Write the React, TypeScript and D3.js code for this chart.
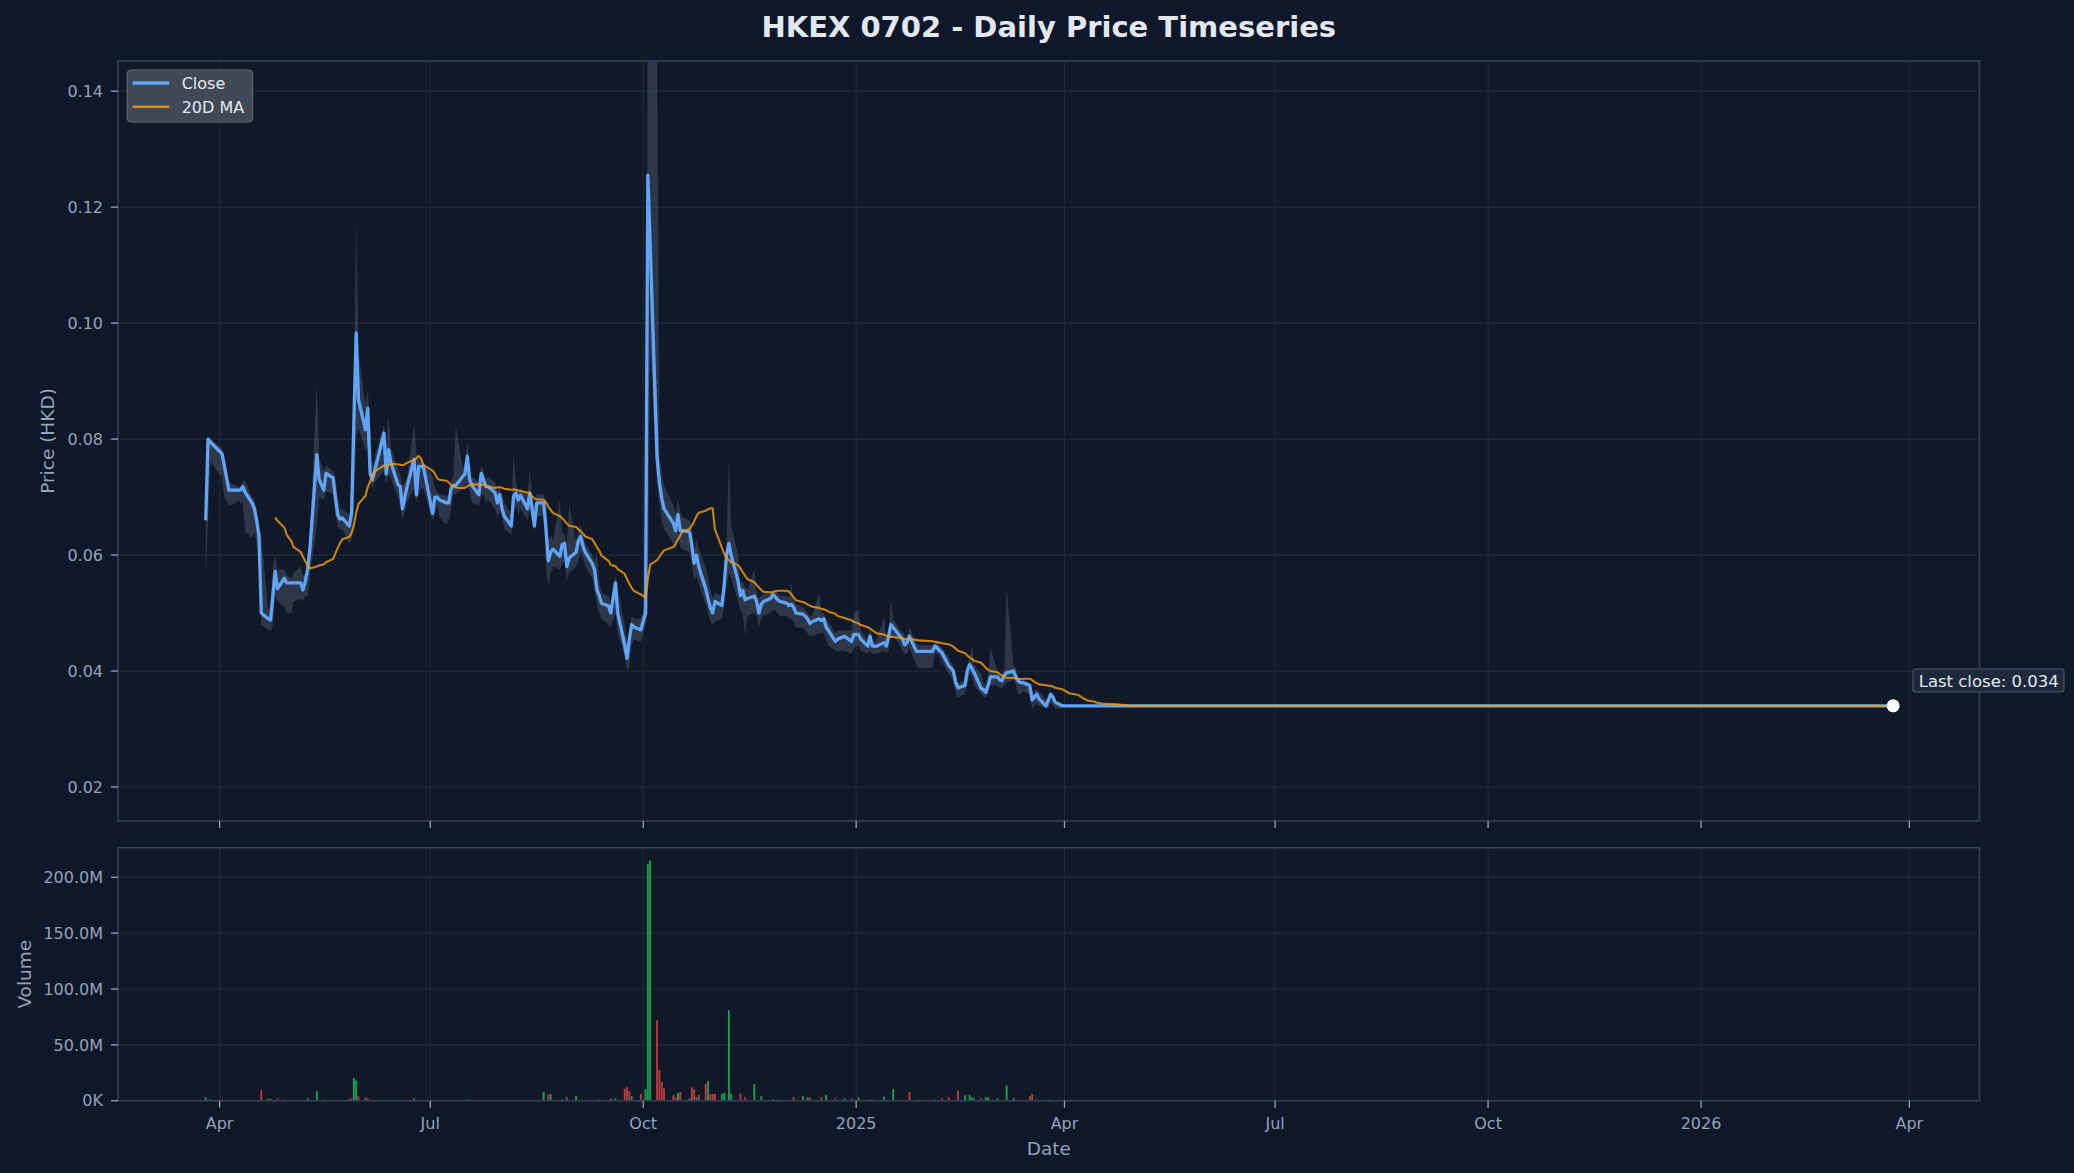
import React from 'react';
import * as d3 from 'd3';

const TITLE = 'HKEX 0702 - Daily Price Timeseries';

// HK exchange holidays (non-trading weekdays)
const HOLIDAYS = [
  '2024-03-29', '2024-04-01', '2024-04-04', '2024-05-01', '2024-05-15', '2024-06-10',
  '2024-07-01', '2024-09-18', '2024-10-01', '2024-10-11', '2024-12-25', '2024-12-26',
  '2025-01-01', '2025-01-29', '2025-01-30', '2025-01-31', '2025-04-04', '2025-04-18',
  '2025-04-21', '2025-05-01', '2025-05-05', '2025-05-30', '2025-07-01', '2025-10-01',
  '2025-10-07', '2025-10-29', '2025-12-25', '2025-12-26', '2026-01-01', '2026-02-17',
  '2026-02-18', '2026-02-19',
];

const FIRST_DATE = '2024-03-26';
const LAST_DATE = '2026-03-25';
const FLAT_CLOSE = 0.034;

// Daily close (HKD), trading days from 2024-03-26 to 2025-03-31, one line per month
const CLOSE = [
  0.066, 0.080, 0.0795,
  0.0775, 0.0755, 0.0712, 0.0712, 0.0712, 0.0712, 0.0718, 0.0708, 0.069, 0.068, 0.066, 0.0632, 0.050, 0.049, 0.0488, 0.053, 0.0572, 0.0542, 0.056, 0.0552,
  0.0552, 0.0552, 0.0552, 0.054, 0.0555, 0.0575, 0.061, 0.0773, 0.073, 0.0712, 0.0741, 0.0733, 0.070, 0.067, 0.0662, 0.0664, 0.065, 0.0672, 0.083, 0.0983, 0.0868,
  0.0816, 0.0853, 0.0741, 0.073, 0.0745, 0.081, 0.074, 0.0782, 0.076, 0.0722, 0.0718, 0.068, 0.070, 0.0718, 0.0765, 0.0704, 0.0753, 0.0753, 0.0753,
  0.0672, 0.070, 0.070, 0.0695, 0.069, 0.069, 0.0715, 0.072, 0.072, 0.0735, 0.074, 0.077, 0.073, 0.072, 0.0704, 0.0741, 0.073, 0.0718, 0.0718, 0.0708, 0.069, 0.0704,
  0.068, 0.0667, 0.065, 0.0701, 0.0707, 0.0695, 0.0703, 0.068, 0.0707, 0.068, 0.065, 0.069, 0.069, 0.0645, 0.059, 0.0605, 0.061, 0.0598, 0.0618, 0.062, 0.058, 0.0595,
  0.0605, 0.0625, 0.0632, 0.0615, 0.0605, 0.0585, 0.0574, 0.054, 0.053, 0.0517, 0.0512, 0.050, 0.0552, 0.050, 0.0445, 0.0422, 0.0455, 0.048, 0.0476, 0.0471,
  0.050, 0.1255, 0.1137, 0.0767, 0.0725, 0.0698, 0.068, 0.0655, 0.0642, 0.067, 0.0642, 0.0642, 0.064, 0.0617, 0.0586, 0.060, 0.058, 0.0542, 0.0525, 0.051, 0.050,
  0.052, 0.0513, 0.055, 0.060, 0.062, 0.060, 0.0555, 0.053, 0.0539, 0.0523, 0.0525, 0.0529, 0.052, 0.050, 0.0515, 0.052, 0.0525, 0.0532, 0.0528, 0.0523, 0.052,
  0.0517, 0.0513, 0.0515, 0.051, 0.050, 0.0498, 0.0495, 0.049, 0.0482, 0.0485, 0.049, 0.0487, 0.049, 0.0476, 0.047, 0.0451, 0.0455, 0.046, 0.0451, 0.0463,
  0.0463, 0.0455, 0.0443, 0.046, 0.0443, 0.0443, 0.0443, 0.0449, 0.0443, 0.046, 0.048, 0.0475, 0.046, 0.0455, 0.0445, 0.0449, 0.046, 0.0434, 0.0434,
  0.0434, 0.0443, 0.044, 0.0435, 0.0432, 0.0409, 0.0405, 0.040, 0.038, 0.0371, 0.0375, 0.040, 0.0411, 0.0405, 0.0397, 0.037, 0.0368, 0.0363, 0.0375, 0.039,
  0.039, 0.0385, 0.0383, 0.0393, 0.0397, 0.040, 0.039, 0.0383, 0.038, 0.038, 0.0375, 0.035, 0.0355, 0.036, 0.0352, 0.034, 0.035, 0.036, 0.0355, 0.0346, 0.034,
];

const HIGH = [
  0.067, 0.0805, 0.080,
  0.0785, 0.077, 0.0725, 0.072, 0.0718, 0.0718, 0.0728, 0.0728, 0.070, 0.0695, 0.068, 0.065, 0.0635, 0.0505, 0.051, 0.058, 0.0598, 0.0575, 0.0575, 0.0565,
  0.056, 0.057, 0.058, 0.0565, 0.0565, 0.058, 0.064, 0.0895, 0.077, 0.0745, 0.0755, 0.0745, 0.0735, 0.0705, 0.068, 0.068, 0.067, 0.0685, 0.088, 0.118, 0.095,
  0.086, 0.0885, 0.083, 0.0755, 0.077, 0.0825, 0.079, 0.084, 0.0785, 0.075, 0.074, 0.072, 0.0725, 0.0735, 0.0825, 0.0775, 0.0765, 0.0765, 0.076,
  0.0735, 0.0715, 0.071, 0.0705, 0.0702, 0.0705, 0.0728, 0.0735, 0.0825, 0.075, 0.076, 0.0796, 0.0765, 0.0735, 0.0725, 0.0755, 0.0745, 0.073, 0.0735, 0.0725, 0.071, 0.0715,
  0.0705, 0.069, 0.067, 0.0776, 0.0725, 0.071, 0.0715, 0.0705, 0.0744, 0.0705, 0.0685, 0.0705, 0.0705, 0.069, 0.0625, 0.0635, 0.0625, 0.0695, 0.064, 0.0635, 0.062, 0.0687,
  0.0625, 0.0645, 0.065, 0.0635, 0.062, 0.060, 0.059, 0.0603, 0.0555, 0.0535, 0.053, 0.0515, 0.0565, 0.0545, 0.048, 0.045, 0.047, 0.0495, 0.049, 0.049,
  0.052, 0.16, 0.15, 0.15, 0.0775, 0.0745, 0.072, 0.0685, 0.067, 0.0698, 0.0675, 0.0665, 0.066, 0.0645, 0.061, 0.063, 0.061, 0.058, 0.056, 0.054, 0.0525,
  0.0535, 0.053, 0.057, 0.062, 0.0768, 0.065, 0.060, 0.055, 0.0555, 0.0545, 0.054, 0.0575, 0.0535, 0.0525, 0.053, 0.0535, 0.0535, 0.054, 0.054, 0.0535, 0.053,
  0.053, 0.0525, 0.0554, 0.052, 0.0515, 0.051, 0.0505, 0.050, 0.0495, 0.0495, 0.0535, 0.050, 0.050, 0.049, 0.0485, 0.0465, 0.047, 0.047, 0.047, 0.050,
  0.0506, 0.047, 0.0455, 0.0475, 0.0455, 0.045, 0.0455, 0.0494, 0.0455, 0.047, 0.0526, 0.049, 0.047, 0.047, 0.046, 0.046, 0.0475, 0.045, 0.0445,
  0.0445, 0.045, 0.0455, 0.0445, 0.044, 0.0425, 0.0415, 0.041, 0.0395, 0.038, 0.0385, 0.041, 0.042, 0.0445, 0.041, 0.0395, 0.038, 0.0375, 0.039, 0.044,
  0.040, 0.0395, 0.039, 0.0405, 0.0543, 0.041, 0.0405, 0.039, 0.0385, 0.0385, 0.038, 0.0365, 0.0365, 0.037, 0.0365, 0.035, 0.0355, 0.0365, 0.036, 0.035, 0.0345,
];

const LOW = [
  0.056, 0.066, 0.076,
  0.0735, 0.070, 0.0685, 0.069, 0.0695, 0.069, 0.069, 0.064, 0.063, 0.064, 0.062, 0.058, 0.048, 0.0471, 0.047, 0.048, 0.053, 0.052, 0.051, 0.050,
  0.050, 0.052, 0.0525, 0.052, 0.053, 0.0528, 0.0565, 0.065, 0.070, 0.0695, 0.071, 0.0705, 0.067, 0.065, 0.0645, 0.0644, 0.062, 0.0625, 0.067, 0.080, 0.082,
  0.078, 0.079, 0.0725, 0.0715, 0.0725, 0.0745, 0.072, 0.074, 0.073, 0.070, 0.068, 0.066, 0.0675, 0.069, 0.0715, 0.069, 0.0705, 0.0715, 0.0715,
  0.066, 0.067, 0.0685, 0.0665, 0.0652, 0.066, 0.068, 0.0705, 0.0705, 0.0715, 0.072, 0.0725, 0.071, 0.069, 0.0685, 0.070, 0.0705, 0.069, 0.0695, 0.068, 0.0665, 0.0675,
  0.0665, 0.0645, 0.0635, 0.0675, 0.0685, 0.067, 0.068, 0.066, 0.068, 0.066, 0.064, 0.0665, 0.067, 0.058, 0.0546, 0.057, 0.058, 0.0575, 0.0585, 0.059, 0.0555, 0.057,
  0.058, 0.059, 0.0605, 0.0595, 0.058, 0.056, 0.054, 0.0515, 0.050, 0.049, 0.048, 0.0475, 0.050, 0.0465, 0.0425, 0.040, 0.041, 0.0445, 0.0455, 0.045,
  0.048, 0.050, 0.095, 0.072, 0.069, 0.066, 0.0645, 0.062, 0.061, 0.063, 0.0615, 0.061, 0.0605, 0.0585, 0.0555, 0.0565, 0.055, 0.0515, 0.050, 0.0485, 0.048,
  0.0485, 0.049, 0.051, 0.0545, 0.057, 0.056, 0.052, 0.0505, 0.050, 0.046, 0.0495, 0.050, 0.0495, 0.0475, 0.049, 0.0495, 0.050, 0.0505, 0.0505, 0.050, 0.0495,
  0.0495, 0.049, 0.049, 0.0485, 0.0475, 0.0475, 0.047, 0.0465, 0.046, 0.046, 0.0465, 0.0465, 0.0465, 0.0455, 0.0445, 0.0435, 0.0435, 0.0435, 0.043, 0.044,
  0.0445, 0.0435, 0.043, 0.0435, 0.043, 0.043, 0.043, 0.0435, 0.043, 0.0435, 0.0455, 0.046, 0.0445, 0.0435, 0.043, 0.043, 0.044, 0.041, 0.0405,
  0.0405, 0.043, 0.043, 0.0425, 0.0415, 0.0395, 0.039, 0.038, 0.036, 0.0355, 0.036, 0.0375, 0.0395, 0.039, 0.0375, 0.036, 0.0355, 0.0355, 0.036, 0.0375,
  0.0375, 0.037, 0.037, 0.0375, 0.038, 0.0385, 0.0375, 0.036, 0.036, 0.0365, 0.036, 0.0335, 0.034, 0.0345, 0.034, 0.0335, 0.0335, 0.0345, 0.034, 0.0335, 0.0335,
];

// Volume (millions of shares), sparse: only days with visible bars
const VOL_DATES = [
  '2024-03-26', '2024-03-28', '2024-04-02', '2024-04-19', '2024-04-22', '2024-04-23', '2024-04-26', '2024-04-29',
  '2024-05-09', '2024-05-13', '2024-05-16', '2024-05-27', '2024-05-28', '2024-05-29', '2024-05-30', '2024-05-31',
  '2024-06-03', '2024-06-04', '2024-06-11', '2024-06-24', '2024-07-17', '2024-07-18', '2024-08-19', '2024-08-21',
  '2024-08-22', '2024-08-27', '2024-08-29', '2024-09-02', '2024-09-12', '2024-09-17', '2024-09-19', '2024-09-23',
  '2024-09-24', '2024-09-25', '2024-09-26', '2024-09-30', '2024-10-02', '2024-10-03', '2024-10-04', '2024-10-07',
  '2024-10-08', '2024-10-09', '2024-10-10', '2024-10-14', '2024-10-15', '2024-10-16', '2024-10-17', '2024-10-21',
  '2024-10-22', '2024-10-23', '2024-10-24', '2024-10-25', '2024-10-28', '2024-10-29', '2024-10-30', '2024-10-31',
  '2024-11-01', '2024-11-04', '2024-11-05', '2024-11-07', '2024-11-08', '2024-11-12', '2024-11-14', '2024-11-18',
  '2024-11-21', '2024-11-26', '2024-11-28', '2024-12-05', '2024-12-09', '2024-12-11', '2024-12-12', '2024-12-17',
  '2024-12-19', '2024-12-23', '2024-12-27', '2024-12-30', '2025-01-02', '2025-01-07', '2025-01-08', '2025-01-13',
  '2025-01-17', '2025-01-24', '2025-01-28', '2025-02-04', '2025-02-07', '2025-02-10', '2025-02-14', '2025-02-17',
  '2025-02-19', '2025-02-20', '2025-02-21', '2025-02-24', '2025-02-26', '2025-02-27', '2025-03-03', '2025-03-07',
  '2025-03-10', '2025-03-17', '2025-03-18', '2025-03-20', '2025-03-25',
];
const VOL_M = [
  3, 1.5, 1, 9.6, 2, 1.5, 2, 1,
  2, 8.7, 1, 1.5, 2, 20.3, 18, 4,
  3, 2, 1, 2, 1, 1, 7.8, 5.7,
  5.7, 1, 3, 4, 1, 2, 2, 10.7,
  12, 8.7, 4, 6, 10.4, 212, 215, 72,
  27.5, 17, 11, 5, 3, 7, 7.8, 2,
  12, 10, 3, 5, 15, 17.6, 6, 6,
  6, 6, 7, 81, 6, 6.5, 3, 15,
  4, 1.5, 1, 3, 4, 3, 3, 3,
  5, 2, 2, 2, 3, 1, 1, 3.5,
  10.4, 7.8, 1, 1, 2, 3, 9, 5,
  5, 3, 2, 2, 3, 3, 2, 13.5,
  2, 4, 6, 1, 1,
];
// 1 = close above open (green), 0 = close below open (red)
const VOL_UP = [
  1, 1, 0, 0, 0, 1, 0, 0,
  1, 1, 0, 0, 0, 1, 1, 0,
  0, 0, 1, 1, 1, 1, 1, 0,
  1, 1, 0, 1, 1, 0, 1, 0,
  0, 0, 1, 0, 1, 1, 1, 0,
  0, 0, 0, 0, 0, 1, 0, 1,
  0, 0, 1, 0, 0, 1, 0, 0,
  0, 1, 1, 1, 1, 0, 0, 1,
  1, 1, 1, 0, 1, 1, 0, 0,
  1, 0, 1, 0, 1, 1, 1, 1,
  1, 0, 0, 1, 0, 0, 0, 1,
  1, 1, 1, 0, 1, 1, 1, 1,
  1, 0, 0, 1, 1,
];

const PRICE_TICKS = [0.02, 0.04, 0.06, 0.08, 0.1, 0.12, 0.14];
const VOLUME_TICKS = [0, 50e6, 100e6, 150e6, 200e6];
const X_TICKS = ['2024-04-01', '2024-07-01', '2024-10-01', '2025-01-01', '2025-04-01', '2025-07-01', '2025-10-01', '2026-01-01', '2026-04-01'];
const X_DOMAIN = ['2024-02-17T02:24:00', '2026-05-01T07:12:00'];
const PRICE_DOMAIN = [0.01414, 0.1452];
const VOLUME_MAX = 226.5e6;
const MA_WINDOW = 20;

const W = 2074;
const H = 1173;
const L = 118;
const R = 1979.5;
const P_TOP = 61;
const P_BOT = 821;
const V_TOP = 847.7;
const V_BOT = 1100.7;

const FONT = '"DejaVu Sans", "Liberation Sans", sans-serif';
const BG = '#0f172a';
const AX_BG = '#111827';
const GRID = '#1f2937';
const SPINE = '#334155';
const TICK_TXT = '#94a3b8';
const TITLE_TXT = '#e2e8f0';
const CLOSE_C = '#60a5fa';
const MA_C = '#f59e0b';

export default function App() {
  const parse = d3.timeParse('%Y-%m-%d');
  const fmt = d3.timeFormat('%Y-%m-%d');
  const hol = new Set(HOLIDAYS);
  const days = d3
    .timeDay.range(parse(FIRST_DATE) as Date, d3.timeDay.offset(parse(LAST_DATE) as Date, 1))
    .filter((d) => d.getDay() !== 0 && d.getDay() !== 6 && !hol.has(fmt(d)));

  const closes = days.map((d, i) => (i < CLOSE.length ? CLOSE[i] : FLAT_CLOSE));
  const series = days.map((d, i) => ({ date: d, close: closes[i] }));
  const ma = series
    .map((p, i) => ({ date: p.date, v: i >= MA_WINDOW - 1 ? d3.mean(closes.slice(i - MA_WINDOW + 1, i + 1)) as number : NaN }))
    .filter((p) => !isNaN(p.v));
  const band = days.slice(0, CLOSE.length).map((d, i) => ({ date: d, lo: LOW[i], hi: HIGH[i] }));

  const x = d3.scaleTime().domain([new Date(X_DOMAIN[0]), new Date(X_DOMAIN[1])]).range([L, R]);
  const y = d3.scaleLinear().domain(PRICE_DOMAIN).range([P_BOT, P_TOP]);
  const yv = d3.scaleLinear().domain([0, VOLUME_MAX]).range([V_BOT, V_TOP]);

  const closeLine = d3.line<{ date: Date; close: number }>().x((d) => x(d.date)).y((d) => y(d.close));
  const maLine = d3.line<{ date: Date; v: number }>().x((d) => x(d.date)).y((d) => y(d.v));
  const bandArea = d3
    .area<{ date: Date; lo: number; hi: number }>()
    .x((d) => x(d.date))
    .y0((d) => y(d.lo))
    .y1((d) => y(d.hi));

  const xTicks = X_TICKS.map((s) => parse(s) as Date);
  const xFmt = (d: Date) => (d.getMonth() === 0 ? d3.timeFormat('%Y')(d) : d3.timeFormat('%b')(d));
  const vFmt = (v: number) => (v >= 1e6 ? `${(v / 1e6).toFixed(1)}M` : `${(v / 1e3).toFixed(0)}K`);

  const last = series[series.length - 1];
  const lastX = x(last.date);
  const lastY = y(last.close);
  const barW = x(d3.timeHour.offset(new Date(2024, 5, 3), 19.2)) - x(new Date(2024, 5, 3));

  return (
    <svg width={W} height={H} style={{ display: 'block', background: BG, fontFamily: FONT }}>
      <style>{`body{margin:0;background:${BG};}`}</style>
      <defs>
        <clipPath id="pclip">
          <rect x={L} y={P_TOP} width={R - L} height={P_BOT - P_TOP} />
        </clipPath>
        <clipPath id="vclip">
          <rect x={L} y={V_TOP} width={R - L} height={V_BOT - V_TOP} />
        </clipPath>
      </defs>
      <rect x={0} y={0} width={W} height={H} fill={BG} />

      <text x={(L + R) / 2} y={36.5} textAnchor="middle" fontSize={29} fontWeight="bold" fill={TITLE_TXT}>
        {TITLE}
      </text>

      {/* Price panel */}
      <rect x={L} y={P_TOP} width={R - L} height={P_BOT - P_TOP} fill={AX_BG} />
      <g>
        {PRICE_TICKS.map((t) => (
          <line key={t} x1={L} x2={R} y1={y(t)} y2={y(t)} stroke={GRID} strokeWidth={1.2} />
        ))}
        {xTicks.map((t, i) => (
          <line key={i} x1={x(t)} x2={x(t)} y1={P_TOP} y2={P_BOT} stroke={GRID} strokeWidth={1.2} />
        ))}
      </g>
      <g clipPath="url(#pclip)">
        <path d={bandArea(band) as string} fill="#64748b" fillOpacity={0.35} />
        <path d={closeLine(series) as string} fill="none" stroke={CLOSE_C} strokeWidth={3.3} strokeLinejoin="round" />
        <path d={maLine(ma) as string} fill="none" stroke={MA_C} strokeWidth={2.1} strokeOpacity={0.8} strokeLinejoin="round" />
      </g>
      <circle cx={lastX} cy={lastY} r={6.5} fill="#ffffff" />
      <rect x={L} y={P_TOP} width={R - L} height={P_BOT - P_TOP} fill="none" stroke={SPINE} strokeWidth={1.6} />
      {PRICE_TICKS.map((t) => (
        <g key={t}>
          <line x1={L - 7} x2={L} y1={y(t)} y2={y(t)} stroke={TICK_TXT} strokeWidth={1.3} />
          <text x={L - 15} y={y(t)} dy="0.36em" textAnchor="end" fontSize={16} fill={TICK_TXT}>
            {t.toFixed(2)}
          </text>
        </g>
      ))}
      {xTicks.map((t, i) => (
        <line key={i} x1={x(t)} x2={x(t)} y1={P_BOT} y2={P_BOT + 7} stroke={TICK_TXT} strokeWidth={1.3} />
      ))}
      <text transform={`translate(54.3, ${(P_TOP + P_BOT) / 2}) rotate(-90)`} textAnchor="middle" fontSize={18.5} fill={TICK_TXT}>
        Price (HKD)
      </text>

      {/* Legend */}
      <g>
        <rect x={127.2} y={70} width={125.5} height={52} rx={4} fill="#454c59" fillOpacity={0.95} stroke="#5f6673" strokeWidth={1.2} />
        <line x1={132.6} x2={169.2} y1={83} y2={83} stroke={CLOSE_C} strokeWidth={3.3} />
        <text x={181.7} y={89.3} fontSize={16} fill={TITLE_TXT}>Close</text>
        <line x1={132.6} x2={169.2} y1={106.7} y2={106.7} stroke={MA_C} strokeWidth={2.1} />
        <text x={181.7} y={112.7} fontSize={16} fill={TITLE_TXT}>20D MA</text>
      </g>

      {/* Last close annotation */}
      <g>
        <rect x={1913} y={669} width={151} height={23} rx={3} fill="#1e293b" stroke="#475569" strokeWidth={1.2} />
        <text x={1918.7} y={687} fontSize={16.5} fill={TITLE_TXT}>
          {`Last close: ${last.close.toFixed(3)}`}
        </text>
      </g>

      {/* Volume panel */}
      <rect x={L} y={V_TOP} width={R - L} height={V_BOT - V_TOP} fill={AX_BG} />
      {VOLUME_TICKS.map((t) => (
        <line key={t} x1={L} x2={R} y1={yv(t)} y2={yv(t)} stroke={GRID} strokeWidth={1.2} />
      ))}
      {xTicks.map((t, i) => (
        <line key={i} x1={x(t)} x2={x(t)} y1={V_TOP} y2={V_BOT} stroke={GRID} strokeWidth={1.2} />
      ))}
      <g clipPath="url(#vclip)">
        {VOL_DATES.map((s, i) => {
          const d = parse(s) as Date;
          const v = VOL_M[i] * 1e6;
          return (
            <rect
              key={s}
              x={x(d) - barW / 2}
              y={yv(v)}
              width={barW}
              height={yv(0) - yv(v)}
              fill={VOL_UP[i] ? '#22c55e' : '#ef4444'}
              fillOpacity={0.8}
            />
          );
        })}
      </g>
      <rect x={L} y={V_TOP} width={R - L} height={V_BOT - V_TOP} fill="none" stroke={SPINE} strokeWidth={1.6} />
      {VOLUME_TICKS.map((t) => (
        <g key={t}>
          <line x1={L - 7} x2={L} y1={yv(t)} y2={yv(t)} stroke={TICK_TXT} strokeWidth={1.3} />
          <text x={L - 15} y={yv(t)} dy="0.36em" textAnchor="end" fontSize={16} fill={TICK_TXT}>
            {vFmt(t)}
          </text>
        </g>
      ))}
      {xTicks.map((t, i) => (
        <g key={i}>
          <line x1={x(t)} x2={x(t)} y1={V_BOT} y2={V_BOT + 7} stroke={TICK_TXT} strokeWidth={1.3} />
          <text x={x(t)} y={1128.5} textAnchor="middle" fontSize={16} fill={TICK_TXT}>
            {xFmt(t)}
          </text>
        </g>
      ))}
      <text transform={`translate(31, ${(V_TOP + V_BOT) / 2}) rotate(-90)`} textAnchor="middle" fontSize={18.5} fill={TICK_TXT}>
        Volume
      </text>
      <text x={(L + R) / 2} y={1154.5} textAnchor="middle" fontSize={18.5} fill={TICK_TXT}>
        Date
      </text>
    </svg>
  );
}
